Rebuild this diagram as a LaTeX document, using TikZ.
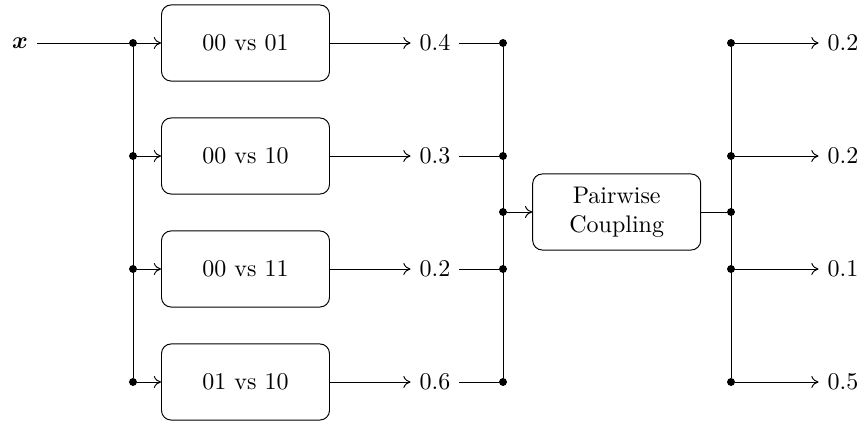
\documentclass[tikz,border=0pt]{standalone}
\usepackage{amsmath,bm}
\usetikzlibrary{arrows.meta}
\begin{document}
\begin{tikzpicture}[x=0.4167pt,y=-0.4167pt,
  blk/.style={draw,rounded corners=4pt,minimum width=70pt,minimum height=31.7pt,align=center,inner sep=2pt},
  jdot/.style={circle,fill,inner sep=0pt,minimum size=3.3pt},
  prob/.style={inner sep=3.6pt},
  flow/.style={-{To[length=3pt,width=5pt]}},
  line/.style={draw}]
\useasboundingbox (0,0) rectangle (862,422);

% input
\node[inner sep=3.6pt] (x) at (20,43) {$\bm{x}$};

% splitting junctions and classifiers
\foreach \i/\y/\t in {1/43/00 vs 01,2/156/00 vs 10,3/269/00 vs 11,4/382/01 vs 10}{
  \node[jdot] (j\i) at (133,\y) {};
  \node[blk] (b\i) at (245.5,\y) {\t};
  \draw[flow] (j\i) -- (b\i);
}
\draw (x) -- (j1);
\draw (j1) -- (j4);

% pairwise probabilities and the collecting bus
\foreach \i/\y/\p in {1/43/0.4,2/156/0.3,3/269/0.2,4/382/0.6}{
  \node[prob] (p\i) at (435,\y) {\p};
  \node[jdot] (k\i) at (503,\y) {};
  \draw[flow] (b\i) -- (p\i);
  \draw (p\i) -- (k\i);
}
\draw (k1) -- (k4);
\node[jdot] (km) at (503,212) {};

% coupling block
\node[blk] (pc) at (616.7,212) {Pairwise\\Coupling};
\draw[flow] (km) -- (pc);
\node[jdot] (m) at (731,212) {};
\draw (pc) -- (m);

% output distribution
\foreach \i/\y/\p in {1/43/0.2,2/156/0.2,3/269/0.1,4/382/0.5}{
  \node[jdot] (r\i) at (731,\y) {};
  \node[prob] (o\i) at (843,\y) {\p};
  \draw[flow] (r\i) -- (o\i);
}
\draw (r1) -- (r4);
\end{tikzpicture}
\end{document}
